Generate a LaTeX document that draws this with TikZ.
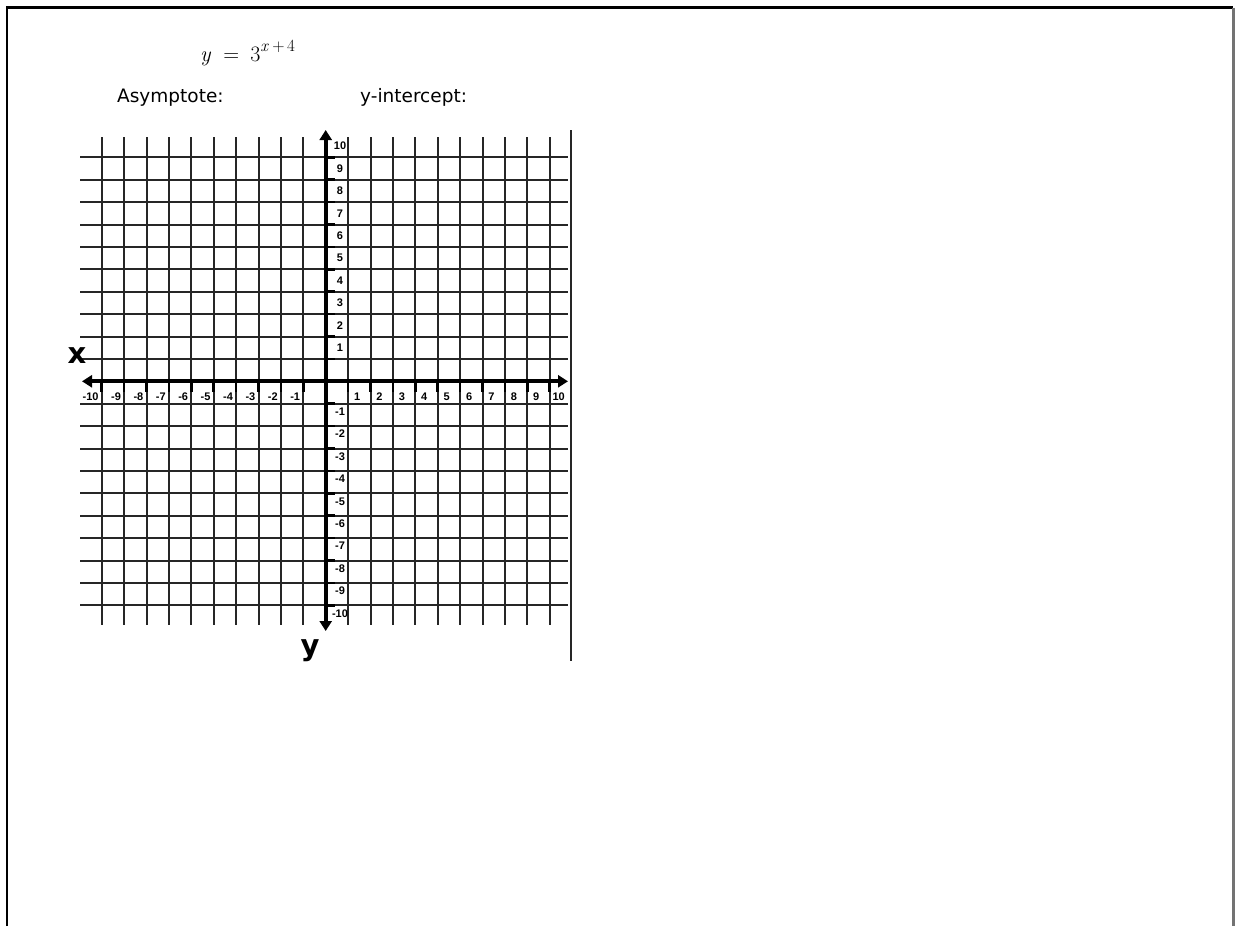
\documentclass[tikz,border=0pt]{standalone}
\usepackage{fontspec}
\newfontfamily\labfont{Liberation Sans}
\newfontfamily\txtfont{DejaVu Sans}
\newfontfamily\bigfont{DejaVu Sans}
\usetikzlibrary{arrows.meta}
\begin{document}
\begin{tikzpicture}[x=1pt,y=-1pt,
  gridline/.style={black!85, line width=2pt},
  axisline/.style={black, line width=3.8pt, {Triangle[width=12pt,length=10pt]}-{Triangle[width=12pt,length=10pt]}},
  tickmark/.style={black, line width=2.6pt},
  numlab/.style={font=\labfont\bfseries\fontsize{11}{12}\selectfont, inner sep=0pt},
  axlab/.style={font=\bigfont\bfseries\fontsize{29}{32}\selectfont, inner sep=0pt, anchor=base},
  txt/.style={font=\txtfont\fontsize{18.5}{20}\selectfont, inner sep=0pt, anchor=base west},
  frameline/.style={black, line width=2.5pt}]
\useasboundingbox (0,0) rectangle (1239,926);
\def\gx{101.7}\def\gy{157.3}\def\gs{22.4}
% page frame
\draw[frameline] (7,926) -- (7,7.5) -- (1233,7.5);
\draw[black!55, line width=3pt] (1233,7.5) -- (1233,926);
% grid
\foreach \k in {0,...,9,11,12,...,20} {
  \draw[gridline] ({\gx+\gs*\k},137) -- ({\gx+\gs*\k},625);
  \draw[gridline] (80,{\gy+\gs*\k}) -- (568,{\gy+\gs*\k});
}
\draw[black!85, line width=2.6pt] (571,130) -- (571,661);
% ticks
\foreach \k in {0,...,9,11,12,...,20} {
  \draw[tickmark] (325.7,{\gy+\gs*\k}) -- ++(9,0);
  \draw[tickmark] ({\gx+\gs*\k},381.3) -- ++(0,11);
}
% axes
\coordinate (ytop) at (325.7,130);
\coordinate (ybot) at (325.7,631);
\coordinate (xleft) at (82,381.3);
\coordinate (xright) at (568,381.3);
\draw[axisline] (ytop) -- (ybot);
\draw[axisline] (xleft) -- (xright);
% labels
\foreach \n in {1,...,10} {
  \node[numlab] (yp\n) at (340,{\gy+\gs*(10-\n)-11.2}) {\n};
  \node[numlab] (yn\n) at (340,{\gy+\gs*(10+\n)+8}) {-\n};
  \node[numlab] (xp\n) at ({\gx+\gs*(10+\n)+9},396.7) {\n};
  \node[numlab,anchor=east] (xn\n) at ({\gx+\gs*(10-\n)-3},396.7) {-\n};
}
\node[axlab] (xlab) at (77,363) {x};
\node[axlab] (ylab) at (310,655) {y};
% texts
\node[inner sep=0pt, anchor=base west, font=\fontsize{22}{26}\selectfont] (eq) at (200,61)
  {\textit{y}\hspace{0.55em}=\hspace{0.5em}3\raisebox{0.42em}{\fontsize{17}{18}\selectfont\textit{x}\hspace{0.2em}+\hspace{0.15em}4}};
\node[txt] (asym) at (117,102) {Asymptote:};
\node[txt] (yint) at (360,102) {y-intercept:};
\end{tikzpicture}
\end{document}
